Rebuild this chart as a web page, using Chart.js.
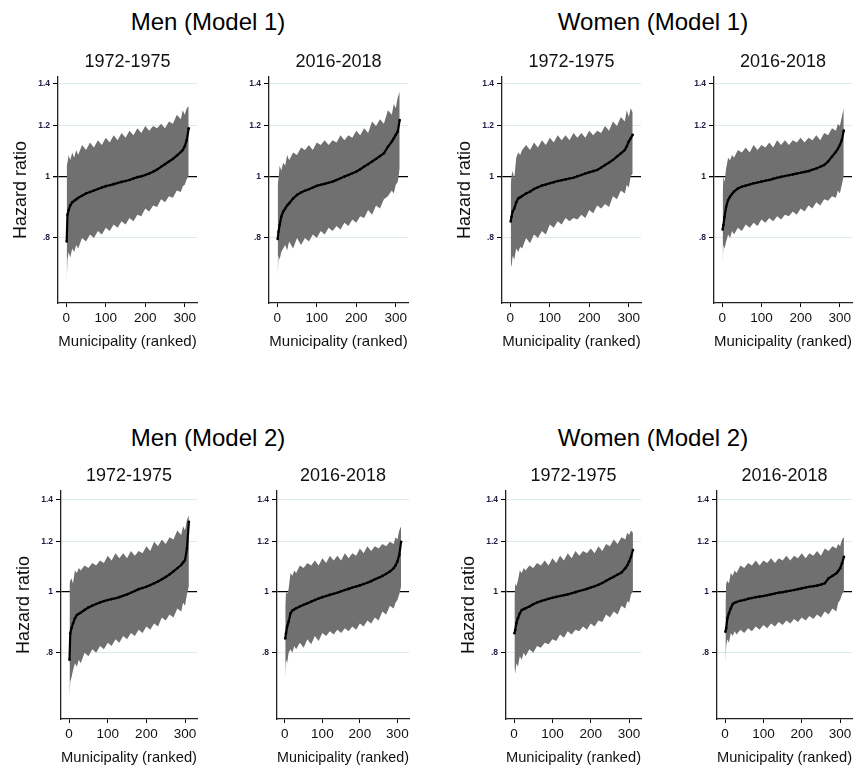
<!DOCTYPE html>
<html>
<head>
<meta charset="utf-8">
<script src="https://cdn.jsdelivr.net/npm/chart.js@4.4.1/dist/chart.umd.min.js"></script>
<style>
  html, body { margin:0; padding:0; background:#fff; }
  body { width:856px; height:768px; position:relative; overflow:hidden; font-family:"Liberation Sans", Arial, sans-serif; }
  .bigtitle { position:absolute; font-size:24px; line-height:24px; color:#000; white-space:nowrap; transform:translateX(-50%); }
  .panel { position:absolute; }
</style>
</head>
<body>
<div class="bigtitle" style="left:208px; top:10px;">Men (Model 1)</div>
<div class="bigtitle" style="left:653px; top:10px;">Women (Model 1)</div>
<div class="bigtitle" style="left:208px; top:426px;">Men (Model 2)</div>
<div class="bigtitle" style="left:653px; top:426px;">Women (Model 2)</div>

<script>
// municipality ranks used for reading the curves
const RANKS = [1,3,6,10,15,20,25,30,40,50,60,70,80,90,100,110,120,130,140,150,160,170,180,190,200,210,220,230,240,250,260,270,280,290,295,300,305,310];
const X_TICKS = [0,100,200,300];
const Y_TICKS = [0.8,1,1.2,1.4];
const Y_TICK_LABELS = ['.8','1','1.2','1.4'];

// Men, model 1, 1972-1975
const men1_7275_est = [.79,.87,.885,.90,.91,.915,.92,.925,.932,.94,.945,.95,.955,.96,.965,.968,.972,.976,.98,.983,.987,.992,.997,1.0,1.005,1.01,1.017,1.025,1.035,1.045,1.055,1.065,1.078,1.092,1.10,1.115,1.14,1.19];
const men1_7275_hi  = [1.04,1.05,1.08,1.06,1.09,1.07,1.10,1.08,1.12,1.10,1.13,1.11,1.14,1.12,1.15,1.13,1.16,1.14,1.17,1.15,1.18,1.16,1.19,1.17,1.20,1.18,1.20,1.19,1.21,1.19,1.22,1.21,1.25,1.23,1.27,1.25,1.28,1.29];
const men1_7275_lo  = [.68,.74,.76,.745,.77,.76,.78,.77,.80,.79,.81,.80,.82,.81,.83,.82,.84,.83,.85,.84,.86,.85,.87,.865,.89,.88,.90,.895,.92,.91,.93,.925,.95,.945,.965,.97,.99,1.0];
// Men, model 1, 2016-2018
const men1_1618_est = [.797,.818,.838,.864,.88,.89,.90,.907,.923,.935,.943,.949,.954,.96,.966,.97,.973,.977,.981,.987,.993,.999,1.005,1.011,1.017,1.026,1.036,1.045,1.055,1.065,1.076,1.087,1.113,1.134,1.148,1.162,1.176,1.226];
const men1_1618_hi  = [.97,.99,1.04,1.02,1.05,1.04,1.08,1.06,1.09,1.08,1.11,1.10,1.12,1.10,1.13,1.12,1.14,1.12,1.14,1.13,1.16,1.14,1.16,1.15,1.18,1.16,1.19,1.17,1.22,1.20,1.23,1.21,1.27,1.25,1.30,1.28,1.33,1.36];
const men1_1618_lo  = [.69,.75,.74,.76,.77,.78,.765,.79,.77,.80,.78,.80,.79,.81,.80,.82,.81,.83,.82,.835,.825,.845,.835,.855,.845,.865,.86,.885,.87,.90,.89,.92,.93,.95,.94,.97,.98,1.03];
// Women, model 1, 1972-1975
const women1_7275_est = [.849,.864,.88,.89,.91,.923,.927,.931,.94,.946,.955,.961,.967,.971,.975,.979,.983,.986,.989,.992,.995,1.0,1.005,1.01,1.015,1.019,1.023,1.032,1.042,1.051,1.061,1.074,1.087,1.10,1.115,1.134,1.148,1.162];
const women1_7275_hi  = [.97,1.0,1.02,.99,1.07,1.09,1.08,1.10,1.12,1.10,1.13,1.11,1.14,1.12,1.15,1.13,1.16,1.14,1.16,1.14,1.17,1.15,1.17,1.15,1.18,1.16,1.18,1.17,1.20,1.18,1.22,1.20,1.24,1.22,1.27,1.24,1.28,1.26];
const women1_7275_lo  = [.73,.72,.75,.74,.77,.76,.775,.77,.80,.785,.81,.80,.82,.81,.84,.83,.85,.84,.86,.85,.86,.855,.87,.86,.885,.875,.90,.89,.905,.895,.93,.92,.95,.94,.97,.96,1.0,1.01];
// Women, model 1, 2016-2018
const women1_1618_est = [.825,.838,.864,.896,.918,.929,.938,.946,.957,.963,.967,.971,.975,.978,.981,.984,.987,.991,.995,.998,1.001,1.004,1.007,1.01,1.013,1.016,1.019,1.024,1.029,1.035,1.042,1.055,1.074,1.093,1.105,1.12,1.14,1.18];
const women1_1618_hi  = [.94,1.0,.98,1.03,1.07,1.06,1.08,1.07,1.10,1.09,1.11,1.09,1.12,1.10,1.12,1.11,1.13,1.11,1.14,1.12,1.14,1.12,1.14,1.13,1.15,1.13,1.15,1.14,1.16,1.14,1.17,1.16,1.19,1.18,1.21,1.20,1.24,1.28];
const women1_1618_lo  = [.73,.78,.77,.79,.81,.80,.82,.81,.83,.82,.84,.83,.845,.835,.855,.845,.86,.85,.865,.855,.87,.865,.88,.87,.89,.88,.90,.89,.91,.90,.92,.915,.93,.925,.95,.94,.97,1.0];
// Men, model 2, 1972-1975
const men2_7275_est = [.78,.859,.875,.89,.907,.918,.922,.926,.935,.944,.95,.956,.961,.966,.97,.973,.976,.98,.985,.99,.996,1.002,1.009,1.013,1.018,1.024,1.031,1.038,1.046,1.055,1.065,1.077,1.089,1.102,1.112,1.122,1.17,1.29];
const men2_7275_hi  = [1.03,1.04,1.05,1.03,1.08,1.07,1.09,1.08,1.10,1.09,1.11,1.10,1.12,1.11,1.14,1.12,1.15,1.13,1.15,1.13,1.16,1.14,1.16,1.15,1.18,1.16,1.20,1.18,1.21,1.19,1.22,1.21,1.25,1.23,1.27,1.25,1.30,1.32];
const men2_7275_lo  = [.68,.72,.73,.75,.77,.76,.78,.77,.80,.79,.81,.80,.82,.81,.83,.82,.84,.83,.85,.84,.86,.85,.87,.86,.88,.87,.89,.88,.91,.90,.92,.91,.94,.93,.96,.95,.99,1.02];
// Men, model 2, 2016-2018
const men2_1618_est = [.843,.859,.88,.896,.924,.933,.937,.941,.947,.953,.958,.964,.97,.975,.98,.984,.988,.992,.996,1.001,1.006,1.01,1.015,1.019,1.023,1.028,1.033,1.039,1.046,1.052,1.059,1.067,1.076,1.089,1.10,1.116,1.143,1.20];
const men2_1618_hi  = [.95,1.0,.99,1.01,1.07,1.06,1.08,1.07,1.10,1.09,1.11,1.10,1.12,1.10,1.13,1.11,1.14,1.12,1.14,1.12,1.15,1.13,1.15,1.14,1.17,1.15,1.18,1.16,1.18,1.17,1.19,1.18,1.20,1.19,1.22,1.21,1.25,1.27];
const men2_1618_lo  = [.73,.78,.77,.80,.81,.80,.82,.81,.83,.815,.84,.825,.85,.835,.86,.85,.865,.855,.87,.86,.875,.865,.88,.87,.89,.88,.90,.89,.91,.90,.93,.92,.95,.94,.96,.97,.99,1.02];
// Women, model 2, 1972-1975
const women2_7275_est = [.859,.869,.891,.907,.924,.935,.938,.941,.947,.955,.961,.966,.97,.974,.978,.981,.984,.987,.99,.994,.998,1.002,1.006,1.01,1.015,1.02,1.025,1.032,1.04,1.048,1.056,1.064,1.072,1.089,1.10,1.116,1.136,1.164];
const women2_7275_hi  = [.98,1.03,1.02,1.04,1.08,1.07,1.09,1.08,1.10,1.09,1.11,1.10,1.12,1.10,1.13,1.11,1.14,1.12,1.15,1.13,1.16,1.14,1.16,1.15,1.17,1.15,1.18,1.16,1.19,1.18,1.21,1.19,1.22,1.21,1.24,1.23,1.25,1.24];
const women2_7275_lo  = [.76,.74,.77,.76,.79,.78,.80,.79,.81,.80,.82,.815,.83,.825,.84,.835,.855,.845,.865,.855,.87,.865,.88,.87,.89,.88,.90,.895,.92,.91,.93,.92,.95,.94,.965,.96,.99,1.0];
// Women, model 2, 2016-2018
const women2_1618_est = [.864,.875,.907,.924,.941,.956,.96,.963,.967,.97,.974,.977,.98,.982,.984,.987,.99,.993,.996,.998,1.001,1.003,1.006,1.009,1.012,1.015,1.018,1.02,1.022,1.026,1.031,1.05,1.059,1.069,1.078,1.089,1.109,1.136];
const women2_1618_hi  = [.96,1.03,1.04,1.03,1.07,1.06,1.08,1.07,1.10,1.09,1.11,1.10,1.12,1.10,1.12,1.11,1.13,1.11,1.13,1.12,1.14,1.12,1.14,1.13,1.15,1.13,1.15,1.14,1.16,1.14,1.17,1.16,1.18,1.17,1.19,1.18,1.21,1.22];
const women2_1618_lo  = [.77,.82,.84,.83,.86,.85,.865,.855,.87,.86,.875,.865,.88,.87,.885,.875,.89,.88,.895,.885,.90,.89,.905,.895,.91,.90,.915,.905,.92,.91,.93,.92,.94,.93,.96,.97,.99,1.0];

const FONT = '"Liberation Sans", Arial, Helvetica, sans-serif';
const BAND = '#707070';

// plot area of each panel in page px (left, right, top, bottom of the axes)
const panels = [
  { est:men1_7275_est,   hi:men1_7275_hi,   lo:men1_7275_lo,   title:'1972-1975', yTitle:true,  L:58,  R:197, T:77,  B:303, ymin:0.632, ymax:1.433 },
  { est:men1_1618_est,   hi:men1_1618_hi,   lo:men1_1618_lo,   title:'2016-2018', yTitle:false, L:269, R:408, T:77,  B:303, ymin:0.632, ymax:1.433 },
  { est:women1_7275_est, hi:women1_7275_hi, lo:women1_7275_lo, title:'1972-1975', yTitle:true,  L:502, R:641, T:77,  B:303, ymin:0.632, ymax:1.433 },
  { est:women1_1618_est, hi:women1_1618_hi, lo:women1_1618_lo, title:'2016-2018', yTitle:false, L:714, R:852, T:77,  B:303, ymin:0.632, ymax:1.433 },
  { est:men2_7275_est,   hi:men2_7275_hi,   lo:men2_7275_lo,   title:'1972-1975', yTitle:true,  L:61,  R:197, T:491, B:719, ymin:0.628, ymax:1.444 },
  { est:men2_1618_est,   hi:men2_1618_hi,   lo:men2_1618_lo,   title:'2016-2018', yTitle:false, L:277, R:409, T:491, B:719, ymin:0.628, ymax:1.444 },
  { est:women2_7275_est, hi:women2_7275_hi, lo:women2_7275_lo, title:'1972-1975', yTitle:true,  L:506, R:641, T:491, B:719, ymin:0.628, ymax:1.444 },
  { est:women2_1618_est, hi:women2_1618_hi, lo:women2_1618_lo, title:'2016-2018', yTitle:false, L:717, R:852, T:491, B:719, ymin:0.628, ymax:1.444 }
];

function pts(arr){ return RANKS.map((r,i)=>({x:r, y:arr[i]})); }

function makePanel(p){
  const padL = 56, padR = 6, titleH = 30, xH = 48;
  const w = padL + (p.R - p.L) + padR;
  const h = titleH + (p.B - p.T) + xH;
  const div = document.createElement('div');
  div.className = 'panel';
  div.style.left = (p.L - padL) + 'px';
  div.style.top = (p.T - titleH) + 'px';
  div.style.width = w + 'px';
  div.style.height = h + 'px';
  const cv = document.createElement('canvas');
  cv.width = w; cv.height = h;
  cv.style.width = w + 'px'; cv.style.height = h + 'px';
  div.appendChild(cv);
  document.body.appendChild(div);

  new Chart(cv, {
    type:'line',
    data:{ datasets:[
      // estimate first so it is painted on top of the band
      { data:pts(p.est), borderColor:'#000', borderWidth:2.2, pointRadius:1.3, pointBackgroundColor:'#000', pointBorderWidth:0, fill:false, tension:0 },
      { data:pts(p.hi), borderWidth:0, pointRadius:0, fill:false, tension:0 },
      { data:pts(p.lo), borderWidth:0, pointRadius:0, fill:'-1', backgroundColor:BAND, tension:0 }
    ]},
    options:{
      responsive:false, maintainAspectRatio:false, animation:false,
      layout:{ padding:{ left:0, right:padR, top:0, bottom:0 } },
      plugins:{
        legend:{ display:false }, tooltip:{ enabled:false },
        title:{ display:true, text:p.title, fullSize:false, padding:{ top:4, bottom:4.4 },
          font:{ size:18, family:FONT, weight:'normal' }, color:'#111' }
      },
      scales:{
        x:{ type:'linear', min:-21, max:331,
          afterBuildTicks:(s)=>{ s.ticks = X_TICKS.map(v=>({value:v})); },
          afterFit:(s)=>{ s.height = xH; },
          grid:{ drawOnChartArea:false, drawTicks:true, tickLength:4, tickColor:'#000' },
          border:{ color:'#222', width:1.3 },
          ticks:{ font:{ size:13.5, family:FONT }, color:'#111', padding:3, maxRotation:0, autoSkip:false },
          title:{ display:true, text:'Municipality (ranked)', font:{ size:15, family:FONT }, color:'#111', padding:{ top:0, bottom:0 } }
        },
        y:{ type:'logarithmic', min:p.ymin, max:p.ymax,
          afterBuildTicks:(s)=>{ s.ticks = Y_TICKS.map(v=>({value:v})); },
          afterFit:(s)=>{ s.width = padL; },
          grid:{ color:(c)=> (c.tick && c.tick.value===1) ? '#000' : '#dde9f0',
                 lineWidth:(c)=> (c.tick && c.tick.value===1) ? 1.3 : 1,
                 tickColor:'#000', tickLength:5, drawTicks:true },
          border:{ color:'#222', width:1.3 },
          ticks:{ callback:(v,i)=>Y_TICK_LABELS[i], font:{ size:8.5, weight:'bold', family:FONT }, color:'#1b1b45', padding:3, autoSkip:false },
          title:{ display:p.yTitle, text:'Hazard ratio', font:{ size:18, family:FONT }, color:'#111', padding:{ top:8, bottom:0 } }
        }
      }
    }
  });
}

panels.forEach(makePanel);
</script>
</body>
</html>
